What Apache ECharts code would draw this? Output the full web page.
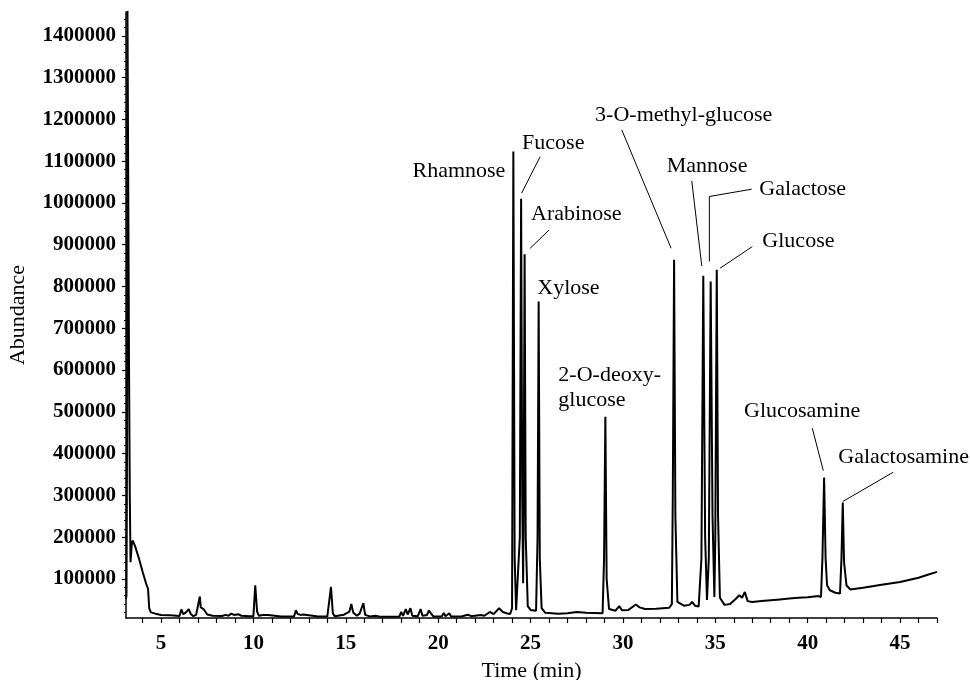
<!DOCTYPE html>
<html>
<head>
<meta charset="utf-8">
<script src="https://cdn.jsdelivr.net/npm/echarts@6/dist/echarts.min.js"></script>
<style>
  html, body { margin: 0; padding: 0; background: #fff; }
  #chart { width: 970px; height: 680px; }
</style>
</head>
<body>
<div id="chart"></div>
<script>
// chromatogram trace (time in min, abundance)
const times = [
  3.105, 3.13, 3.16, 3.18, 3.24, 3.27, 3.31, 3.35, 3.38, 3.42, 3.47, 3.6, 3.8, 4.0, 4.2, 4.3, 4.36, 4.45, 4.7, 5.0,
  5.5, 6.0, 6.1, 6.2, 6.35, 6.5, 6.6, 6.75, 6.9, 7.0, 7.1, 7.15, 7.3, 7.5, 7.8, 8.3, 8.5, 8.65, 8.8, 8.95,
  9.2, 9.35, 9.8, 10.0, 10.1, 10.2, 10.3, 10.5, 10.6, 10.8, 10.9, 11.5, 12.2, 12.3, 12.4, 12.55, 12.7, 12.8, 13.5, 14.0,
  14.1, 14.2, 14.3, 14.4, 14.9, 15.0, 15.2, 15.3, 15.4, 15.6, 15.75, 15.85, 15.95, 16.05, 16.3, 16.6, 16.8, 17.5, 17.9, 18.0,
  18.1, 18.25, 18.35, 18.5, 18.6, 18.9, 19.05, 19.15, 19.4, 19.5, 19.6, 19.75, 20.2, 20.3, 20.4, 20.6, 20.7, 21.3, 21.6, 21.8,
  22.3, 22.5, 22.8, 23.0, 23.3, 23.5, 23.7, 23.9, 24.0, 24.07, 24.14, 24.22, 24.32, 24.42, 24.49, 24.55, 24.6, 24.63, 24.68, 24.74,
  24.85, 25.0, 25.3, 25.38, 25.44, 25.5, 25.6, 25.8, 26.5, 27.0, 27.5, 28.0, 28.9, 28.98, 29.05, 29.12, 29.25, 29.6, 29.8, 29.95,
  30.3, 30.7, 30.9, 31.2, 31.8, 32.5, 32.65, 32.7, 32.77, 32.84, 32.95, 33.3, 33.6, 33.75, 33.9, 34.1, 34.25, 34.35, 34.45, 34.55,
  34.65, 34.75, 34.85, 34.95, 35.0, 35.08, 35.15, 35.25, 35.5, 35.8, 36.1, 36.3, 36.45, 36.6, 36.75, 37.0, 37.5, 38.0, 38.5, 39.0,
  39.5, 40.0, 40.6, 40.72, 40.8, 40.89, 40.97, 41.05, 41.2, 41.5, 41.75, 41.83, 41.9, 41.97, 42.1, 42.3, 43.0, 44.0, 45.0, 46.0,
  46.5, 47.0
];
const abundance = [
  52000, 60000, 400000, 1500000, 1500000, 600000, 300000, 140000, 138000, 185000, 192000, 178000, 150000, 118000, 88000, 76000, 30000, 20000, 17000, 14000,
  13000, 11500, 27000, 16000, 20000, 28000, 17000, 11000, 14000, 12000, 58000, 32000, 28000, 15000, 12000, 11500, 14000, 12000, 17000, 14000,
  15500, 12000, 11000, 10500, 85000, 22000, 12000, 14000, 11000, 14000, 10500, 10000, 10000, 25000, 16000, 14000, 15000, 11000, 10000, 10000,
  12000, 81000, 18000, 11000, 14500, 11000, 22000, 40000, 20000, 12000, 17000, 14000, 42000, 14000, 10500, 12000, 10000, 9500, 10000, 21000,
  12000, 28000, 15000, 30000, 12000, 11000, 28000, 12000, 14000, 25000, 18000, 10000, 11000, 18500, 11000, 18000, 10000, 11000, 14500, 11000,
  14000, 12000, 21000, 16000, 30000, 21000, 18000, 16000, 30000, 1123000, 150000, 25000, 22000, 200000, 1010000, 300000, 90000, 300000, 877000, 200000,
  35000, 26000, 24000, 200000, 764000, 150000, 30000, 19000, 17000, 18000, 21000, 19000, 18000, 150000, 488000, 100000, 28000, 24000, 35000, 25000,
  26000, 39000, 32000, 28000, 29000, 31000, 40000, 300000, 864000, 250000, 45000, 36000, 38000, 45000, 36000, 34000, 150000, 826000, 200000, 50000,
  150000, 812000, 250000, 57000, 200000, 840000, 250000, 55000, 38000, 40000, 52000, 61000, 55000, 69000, 47000, 45000, 47000, 49000, 51000, 53000,
  55000, 56000, 59000, 57000, 150000, 343000, 150000, 85000, 73000, 67000, 65000, 150000, 283000, 140000, 85000, 75000, 79000, 86000, 93000, 103000,
  110000, 117000
];

// labelled peaks
const peakNames = ['Rhamnose', 'Fucose', 'Arabinose', 'Xylose', '2-O-deoxy-\nglucose', '3-O-methyl-glucose',
  'Mannose', 'Galactose', 'Glucose', 'Glucosamine', 'Galactosamine'];
const peakTimes = [24.07, 24.49, 24.68, 25.44, 29.05, 32.77, 34.35, 34.75, 35.08, 40.89, 41.9];

// axis ticks
const xLabelValues = [5, 10, 15, 20, 25, 30, 35, 40, 45];
const xTickValues = [4, 5, 6, 7, 8, 9, 10, 11, 12, 13, 14, 15, 16, 17, 18, 19, 20, 21, 22, 23, 24, 25,
  26, 27, 28, 29, 30, 31, 32, 33, 34, 35, 36, 37, 38, 39, 40, 41, 42, 43, 44, 45, 46, 47];
const yLabelValues = [100000, 200000, 300000, 400000, 500000, 600000, 700000, 800000, 900000,
  1000000, 1100000, 1200000, 1300000, 1400000];

// label placement, pixel offsets from the peak top
const labelLayout = [
  { text: [-8, 20], align: 'right' },
  { text: [1, -56], leader: [[19, -42], [0.5, -5.6]] },
  { text: [6.5, -40], leader: [[24.5, -24.4], [5.5, -6]] },
  { text: [-1.4, -13.3] },
  { text: [-47, -29.5] },
  { text: [-79, -144.8], leader: [[-52.3, -129.8], [-3, -11.5]] },
  { text: [-36.5, -109.7], leader: [[-11.5, -94.7], [-1.5, -9.7]] },
  { text: [48.7, -92.6], leader: [[41, -92.3], [-1.3, -85], [-1.3, -20]] },
  { text: [45.6, -28.2], leader: [[35.6, -23.2], [3.3, -1.6]] },
  { text: [-80, -65.8], leader: [[-11.8, -49.2], [-0.8, -6.8]] },
  { text: [-4.5, -45.3], leader: [[50.5, -30.3], [0, -1]] }
];

const SERIF = '"Liberation Serif", "DejaVu Serif", serif';
const trace = times.map((t, i) => [t, abundance[i]]);
const peakData = peakTimes.map(t => [t, abundance[times.indexOf(t)]]);

const yMinorTicks = [];
for (let v = 20000; v <= 1440000; v += 20000) yMinorTicks.push(v);

function renderLabel(params, api) {
  const i = params.dataIndex;
  const p = api.coord([api.value(0), api.value(1)]);
  const L = labelLayout[i];
  const children = [{
    type: 'text',
    x: p[0] + L.text[0],
    y: p[1] + L.text[1],
    style: {
      text: peakNames[i],
      font: '22px ' + SERIF,
      fill: '#000',
      align: L.align || 'left',
      verticalAlign: 'middle',
      lineHeight: 25
    }
  }];
  if (L.leader) {
    children.push({
      type: 'polyline',
      shape: { points: L.leader.map(d => [p[0] + d[0], p[1] + d[1]]) },
      style: { stroke: '#000', lineWidth: 1, fill: null }
    });
  }
  return { type: 'group', children: children };
}

const chart = echarts.init(document.getElementById('chart'), null, { renderer: 'canvas' });
const option = {
  animation: false,
  backgroundColor: '#fff',
  grid: { left: 126, right: 33, top: 12, bottom: 62, containLabel: false, outerBoundsMode: 'none' },
  xAxis: {
    type: 'value',
    min: 3.105,
    max: 47,
    name: 'Time (min)',
    nameLocation: 'middle',
    nameGap: 42,
    nameTextStyle: { fontFamily: SERIF, fontSize: 22, color: '#000' },
    axisLine: { lineStyle: { color: '#000', width: 1.5 } },
    axisTick: { customValues: xTickValues, length: 5, lineStyle: { color: '#000', width: 1.2 } },
    axisLabel: { customValues: xLabelValues, margin: 15, fontFamily: SERIF, fontSize: 21, fontWeight: 'bold', color: '#000' },
    splitLine: { show: false }
  },
  yAxis: [{
    type: 'value',
    min: 6600,
    max: 1457000,
    name: 'Abundance',
    nameLocation: 'middle',
    nameGap: 97,
    nameTextStyle: { fontFamily: SERIF, fontSize: 22, color: '#000' },
    axisLine: { show: true, lineStyle: { color: '#000', width: 1.5 } },
    axisTick: { show: true, customValues: yLabelValues, length: 4, lineStyle: { color: '#000', width: 1.2 } },
    axisLabel: {
      customValues: yLabelValues, margin: 10, fontFamily: SERIF, fontSize: 21, fontWeight: 'bold', color: '#000',
      formatter: v => String(v)
    },
    splitLine: { show: false }
  }, {
    type: 'value',
    position: 'left',
    offset: 0,
    min: 6600,
    max: 1457000,
    axisLine: { show: false },
    axisTick: { show: true, customValues: yMinorTicks, length: 2, lineStyle: { color: '#000', width: 1 } },
    axisLabel: { show: false },
    splitLine: { show: false }
  }],
  series: [{
    type: 'line',
    data: trace,
    showSymbol: false,
    clip: true,
    lineStyle: { color: '#000', width: 2 },
    z: 3
  }, {
    type: 'custom',
    data: peakData,
    renderItem: renderLabel,
    clip: false,
    silent: true,
    z: 5
  }]
};
chart.setOption(option);
</script>
</body>
</html>
